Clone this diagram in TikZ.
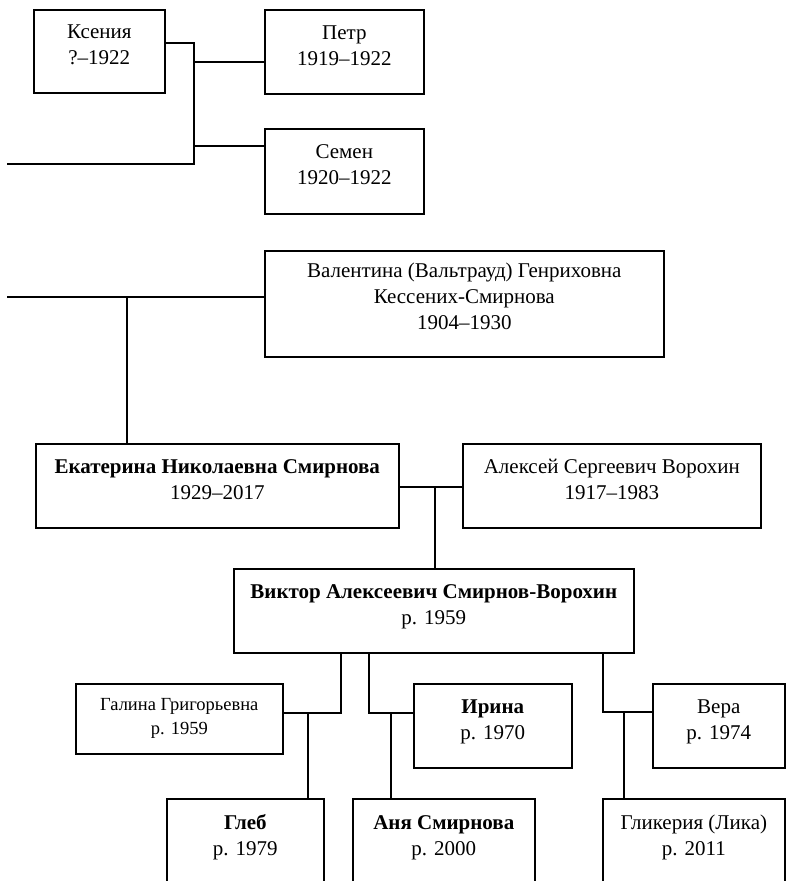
\documentclass[tikz,border=0pt]{standalone}
\usepackage{fontspec}
\setmainfont{Liberation Serif}
\usetikzlibrary{positioning}

\begin{document}
\begin{tikzpicture}[
    x=1pt, y=-1pt,
    box/.style={rectangle, draw=black, line width=1.6pt, anchor=north west, align=center, inner sep=2pt},
    person/.style={box, font=\fontsize{21}{26}\selectfont, text height=41pt, text depth=14pt},
    smallperson/.style={box, font=\fontsize{18.5}{24}\selectfont},
    link/.style={draw=black, line width=1.5pt}
]
\useasboundingbox (0,0) rectangle (786,881);
\clip (0,0) rectangle (786,881);

% first branch
\node[person, minimum width=131pt, minimum height=83pt] (ksenia) at (33,9) {Ксения\\?–1922};
\node[person, minimum width=159pt, minimum height=84pt] (petr) at (264,9) {Петр\\1919–1922};
\node[person, minimum width=159pt, minimum height=85pt] (semen) at (264,128) {Семен\\1920–1922};

% second wife
\node[person, text height=67pt, text depth=15pt, minimum width=399pt, minimum height=106pt] (valentina) at (264,250) {Валентина (Вальтрауд) Генриховна\\Кессених-Смирнова\\1904–1930};

% daughter and husband
\node[person, minimum width=363pt, minimum height=84pt] (ekaterina) at (35,443) {\textbf{Екатерина Николаевна Смирнова}\\1929–2017};
\node[person, minimum width=298pt, minimum height=84pt] (aleksey) at (462,443) {Алексей Сергеевич Ворохин\\1917–1983};

% son
\node[person, minimum width=400pt, minimum height=84pt] (viktor) at (233,568) {\textbf{Виктор Алексеевич Смирнов-Ворохин}\\р. 1959};

% wives
\node[smallperson, minimum width=207pt, minimum height=70pt] (galina) at (75,683) {Галина Григорьевна\\р. 1959};
\node[person, minimum width=158pt, minimum height=84pt] (irina) at (413,683) {\textbf{Ирина}\\р. 1970};
\node[person, minimum width=132pt, minimum height=84pt] (vera) at (652,683) {Вера\\р. 1974};

% children (cut by the page edge)
\node[person, minimum width=157pt, minimum height=86pt] (gleb) at (166,798) {\textbf{Глеб}\\р. 1979};
\node[person, minimum width=182pt, minimum height=86pt] (anya) at (352,798) {\textbf{Аня Смирнова}\\р. 2000};
\node[person, minimum width=182pt, minimum height=86pt] (likeria) at (602,798) {Гликерия (Лика)\\р. 2011};

% junctions
\coordinate (kspine) at (194,43);
\coordinate (kbot) at (194,164);
\coordinate (kleft) at (7,164);
\coordinate (pj) at (194,62);
\coordinate (sj) at (194,146);
\coordinate (vleft) at (7,297);
\coordinate (vj) at (127,297);
\coordinate (ea) at (435,487);
\coordinate (vg) at (341,713);
\coordinate (gg) at (308,713);
\coordinate (vi) at (369,713);
\coordinate (ia) at (391,713);
\coordinate (vv) at (603,712);
\coordinate (vl) at (624,712);

% connections
\draw[link] (ksenia.east |- kspine) -- (kspine) -- (kbot) -- (kleft);
\draw[link] (pj) -- (petr.west |- pj);
\draw[link] (sj) -- (semen.west |- sj);
\draw[link] (vleft) -- (valentina.west |- vleft);
\draw[link] (vj) -- (ekaterina.north -| vj);
\draw[link] (ekaterina.east |- ea) -- (aleksey.west |- ea);
\draw[link] (ea) -- (viktor.north -| ea);
\draw[link] (viktor.south -| vg) -- (vg) -- (galina.east |- vg);
\draw[link] (gg) -- (gleb.north -| gg);
\draw[link] (viktor.south -| vi) -- (vi) -- (irina.west |- vi);
\draw[link] (ia) -- (anya.north -| ia);
\draw[link] (viktor.south -| vv) -- (vv) -- (vera.west |- vv);
\draw[link] (vl) -- (likeria.north -| vl);
\end{tikzpicture}
\end{document}
